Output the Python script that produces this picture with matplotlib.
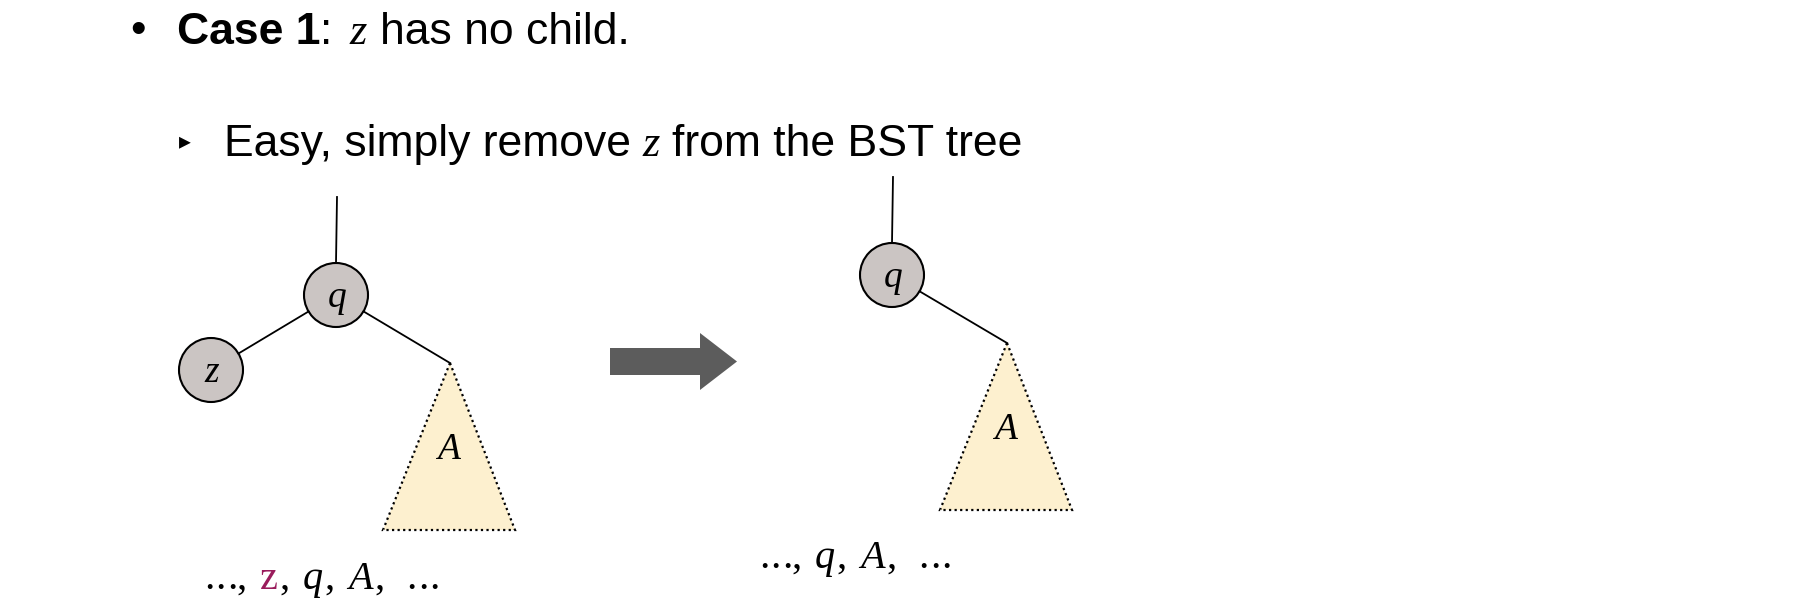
import matplotlib
matplotlib.use("Agg")
import matplotlib.pyplot as plt
from matplotlib.patches import Circle, Polygon, FancyArrow

# ---- diagram content ----
title_runs = [("Case 1", "bold"), (":", "sans"), ("z", "math"), ("has no child.", "sans")]
sub_runs = [("Easy, simply remove", "sans"), ("z", "math"), ("from the BST tree", "sans")]

# left tree: q with children z and subtree A
left_nodes = {"q": (336, 295), "z": (211, 370)}
left_subtree = {"label": "A", "apex": (450, 363), "base_y": 530, "base_x": (383, 515)}
left_parent_top = 197
left_order = ["...", "z", "q", "A", "..."]
left_highlight = "z"

# right tree after removal: q with subtree A only
right_nodes = {"q": (892, 275)}
right_subtree = {"label": "A", "apex": (1007, 343), "base_y": 510, "base_x": (940, 1072)}
right_parent_top = 177
right_order = ["...", "q", "A", "..."]

# ---- style ----
NODE_R = 32
NODE_FILL = "#cbc5c3"
TRI_FILL = "#fdf0cf"
ARROW_COL = "#5c5c5c"
HILITE = "#9a1c5c"
SANS = ["Liberation Sans", "DejaVu Sans"]
SERIF = ["Liberation Serif", "DejaVu Serif"]

fig = plt.figure(figsize=(18.1, 6.12), dpi=100)
ax = fig.add_axes([0, 0, 1, 1])
ax.set_xlim(0, 1810)
ax.set_ylim(612, 0)
ax.axis("off")
renderer = fig.canvas.get_renderer()


def text_width(t):
    bb = t.get_window_extent(renderer)
    inv = ax.transData.inverted()
    x0 = inv.transform((bb.x0, bb.y0))[0]
    x1 = inv.transform((bb.x1, bb.y0))[0]
    return x1 - x0


def place_runs(x, y, runs, gaps):
    for (txt, kind), gap in zip(runs, gaps):
        kw = dict(va="baseline", ha="left")
        if kind == "bold":
            kw.update(family=SANS, fontsize=32, fontweight="bold")
        elif kind == "sans":
            kw.update(family=SANS, fontsize=32)
        elif kind == "math":
            kw.update(family=SERIF, fontsize=32, style="italic")
        t = ax.text(x, y, txt, **kw)
        x += text_width(t) + gap


# bullets and the two text lines
ax.text(138, 32, "•", family=SANS, fontsize=32, ha="center", va="center")
place_runs(177, 44, title_runs, [0, 17, 13, 0])
ax.text(185, 141, "▸", family=["DejaVu Sans"], fontsize=17, ha="center", va="center")
place_runs(224, 156, sub_runs, [12, 12, 0])


def draw_tree(nodes, subtree, parent_top, children):
    qx, qy = nodes["q"]
    ax.plot([qx + 1, qx], [parent_top, qy - NODE_R], color="black", lw=1.3)
    for name in children:
        cx, cy = nodes[name] if name in nodes else subtree["apex"]
        dx, dy = cx - qx, cy - qy
        d = (dx ** 2 + dy ** 2) ** 0.5
        end_r = NODE_R if name in nodes else 0
        ax.plot([qx + dx / d * NODE_R, cx - dx / d * end_r],
                [qy + dy / d * NODE_R, cy - dy / d * end_r], color="black", lw=1.3)
    ax_, ay_ = subtree["apex"]
    bl, br = subtree["base_x"]
    by = subtree["base_y"]
    ax.add_patch(Polygon([(ax_, ay_), (br, by), (bl, by)], closed=True,
                         facecolor=TRI_FILL, edgecolor="black", lw=1.6,
                         linestyle=(0, (1, 1.5))))
    ax.text(ax_ - 2, ay_ + (by - ay_) * 0.52, subtree["label"], family=SERIF,
            style="italic", fontsize=27, ha="center", va="center")
    for name, (x, y) in nodes.items():
        ax.add_patch(Circle((x, y), NODE_R, facecolor=NODE_FILL, edgecolor="black", lw=1.5))
        ax.text(x + 1, y + 3, name, family=SERIF, style="italic", fontsize=27,
                ha="center", va="center")


draw_tree(left_nodes, left_subtree, left_parent_top, ["z", "A"])
draw_tree(right_nodes, right_subtree, right_parent_top, ["A"])

# big transition arrow
ax.add_patch(FancyArrow(610, 361.5, 127, 0, width=27, head_width=57, head_length=37,
                        length_includes_head=True, color=ARROW_COL, lw=0))


def place_order(x, y, items, highlight=None):
    for i, item in enumerate(items):
        if item == "...":
            # spaced dots like LaTeX \ldots
            for k in range(3):
                ax.text(x + k * 11.5, y, ".", family=SERIF, fontsize=30,
                        va="baseline", ha="left")
            x += 3 * 11.5 - 4
        else:
            italic = item != highlight
            color = HILITE if item == highlight else "black"
            t = ax.text(x, y, item, family=SERIF, fontsize=29, va="baseline", ha="left",
                        style="italic" if italic else "normal", color=color)
            x += text_width(t)
        if i < len(items) - 1:
            c = ax.text(x + 2, y, ",", family=SERIF, fontsize=29, va="baseline", ha="left")
            gap = 22 if i == len(items) - 2 else 13
            x += text_width(c) + 2 + gap


place_order(204, 589, left_order, left_highlight)
place_order(759, 568, right_order)

fig.savefig("out.png", dpi=100)
